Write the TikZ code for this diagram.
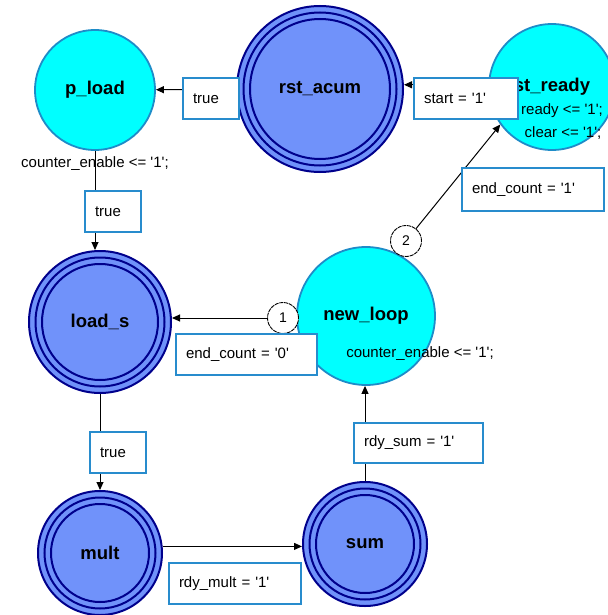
\documentclass[tikz,border=0pt]{standalone}
\usepackage{fontspec}
\setmainfont{Liberation Sans}
\usetikzlibrary{arrows.meta}
\definecolor{cyanfill}{RGB}{0,255,255}
\definecolor{cyanedge}{RGB}{30,140,200}
\definecolor{bluefill}{RGB}{112,146,250}
\definecolor{ringnavy}{RGB}{0,0,140}
\definecolor{boxedge}{RGB}{40,140,205}
\newcommand{\q}{\textquotesingle}
\begin{document}
\begin{tikzpicture}[x=1pt,y=-1pt,
  cstate/.style={circle, fill=cyanfill, draw=cyanedge, line width=1.8pt, inner sep=0pt, minimum size=#1},
  bstate/.style={circle, fill=bluefill, draw=ringnavy, line width=2pt, inner sep=0pt, minimum size=#1},
  ring/.style={draw=ringnavy, line width=2pt},
  sname/.style={font=\fontsize{18.5}{20}\selectfont\bfseries},
  act/.style={font=\fontsize{15}{17}\selectfont, inner sep=0pt},
  arr/.style={draw=black, line width=1pt, -{Triangle[length=8pt,width=7pt]}},
  prio/.style={circle, draw=black, dash pattern=on 4pt off 0.8pt, line width=0.9pt, fill=white, minimum size=31pt, inner sep=0pt, font=\fontsize{14}{16}\selectfont},
  lbox/.style={draw=boxedge, line width=1.4pt, fill=white, font=\fontsize{15}{17}\selectfont, inner xsep=10pt, inner ysep=0pt, align=left}
]
\useasboundingbox (0,0) rectangle (607,615);

% states
\node[cstate=120pt, sname] (pload) at (95,90) {p\_load};
\node[bstate=166pt, sname] (rst) at (320,89) {rst\_acum};
\node[cstate=126pt, sname] (ready) at (552,87) {st\_ready};
\node[bstate=142pt, sname] (loads) at (100,322) {load\_s};
\node[cstate=138pt, sname] (newloop) at (366,316) {new\_loop};
\node[bstate=124pt, sname] (mult) at (100,553) {mult};
\node[bstate=124pt, sname] (sum) at (365,544) {sum};

% inner rings of the blue states
\foreach \n/\r in {rst/83, loads/71, mult/62, sum/62}{
  \draw[ring] (\n.center) circle[radius={(\r-6.5)*1pt}];
  \draw[ring] (\n.center) circle[radius={(\r-13)*1pt}];
}

% state actions
\node[act] (pact) at (95,164) {counter\_enable <= \q1\q;};
\node[act] (ract) at (562,111) {ready <= \q1\q;};
\node[act] (cact) at (563,133) {clear <= \q1\q;};
\node[act] (nact) at (420,354) {counter\_enable <= \q1\q;};

% priority markers
\node[prio] (c1) at (283,318) {1};
\node[prio] (c2) at (406,241) {2};

% transitions
\draw[arr] (rst) -- (pload);
\draw[arr] (pload) -- (pload |- loads.north);
\draw[arr] (ready.178) -- (ready.178 -| rst.east);
\draw[arr] (c2) -- (ready.216);
\draw[arr] (c1) -- (c1 -| loads.east);
\draw[arr] (loads) -- (loads |- mult.north);
\draw[arr] (mult.6) -- (mult.6 -| sum.west);
\draw[arr] (sum) -- (sum |- newloop.south);

% transition labels
\node[lbox, minimum height=41pt, text width=36pt] (l1) at (211,98.5) {true};
\node[lbox, minimum height=41pt, text width=36pt] (l2) at (113,211.5) {true};
\node[lbox, minimum height=41pt, text width=84pt] (l3) at (466,98.5) {start = \q1\q};
\node[lbox, minimum height=43pt, text width=122pt] (l4) at (533,189.5) {end\_count = \q1\q};
\node[lbox, minimum height=41pt, text width=121pt] (l5) at (246.5,354.5) {end\_count = \q0\q};
\node[lbox, minimum height=41pt, text width=36pt] (l6) at (118,452.5) {true};
\node[lbox, minimum height=41pt, text width=112pt] (l7) at (235,583.5) {rdy\_mult = \q1\q};
\node[lbox, minimum height=40pt, text width=109pt] (l8) at (418.5,443) {rdy\_sum = \q1\q};
\end{tikzpicture}
\end{document}
